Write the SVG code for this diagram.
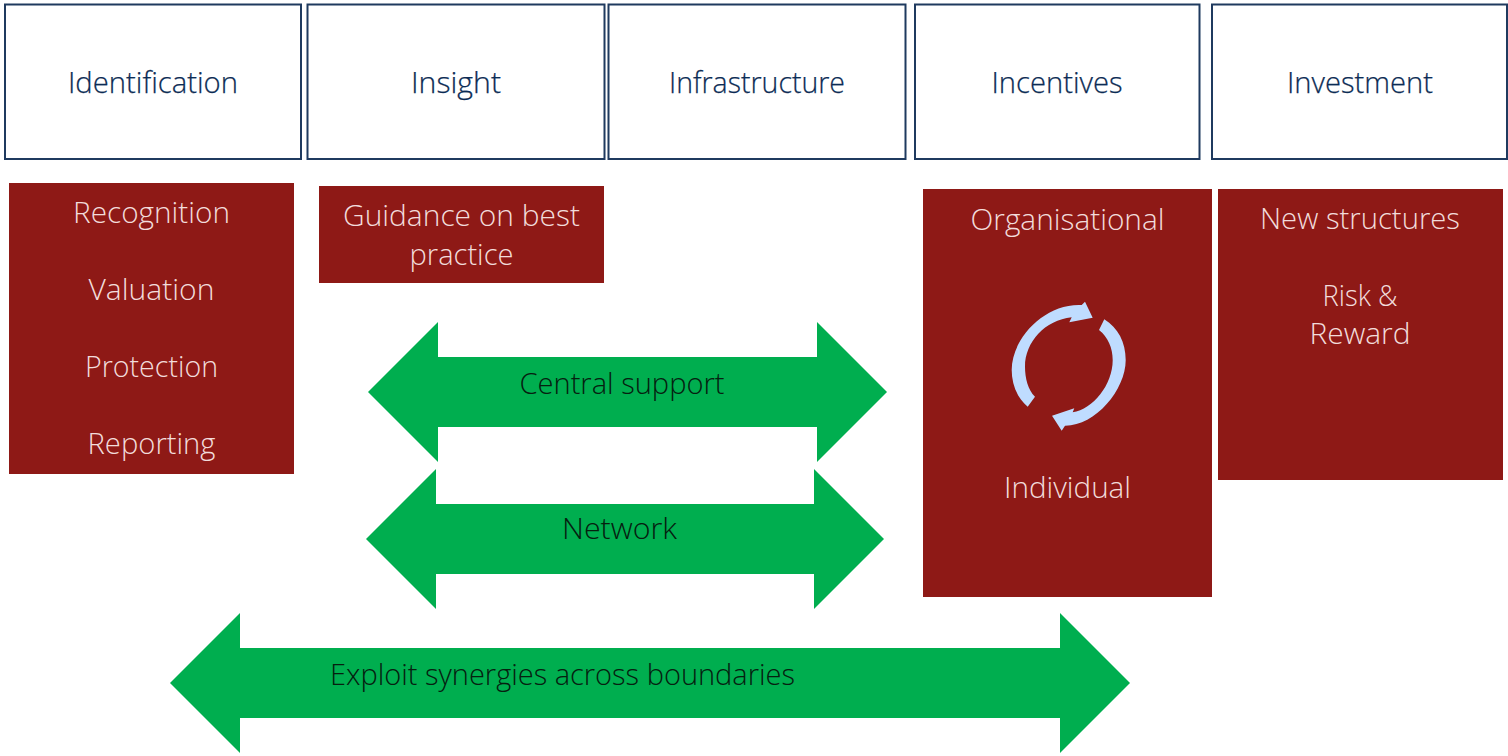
<svg xmlns="http://www.w3.org/2000/svg" width="1508" height="756" viewBox="0 0 1508 756">
<style>
text{font-family:"Open Sans","Noto Sans","Liberation Sans",sans-serif;font-weight:300;text-anchor:middle}
.h rect{fill:#fff;stroke:#1f3a5f;stroke-width:2}
.h text{font-size:30px;fill:#0c2c55;stroke:#0c2c55;stroke-width:.25}
.r rect{fill:#8e1916}
.r text{font-size:30px;fill:#f2dcdb}
.a{fill:#00ae4f}
.g text,text.g{font-size:29px;fill:#06200f}
.c{fill:#bfdcff}
</style>
<g id="box-identification" class="h"><rect x="5" y="4.500" width="296" height="154.500"/><text x="153" y="92.500" textLength="170" lengthAdjust="spacingAndGlyphs">Identification</text></g>
<g id="box-insight" class="h"><rect x="307.500" y="4.500" width="297" height="154.500"/><text x="456" y="92.500" textLength="90" lengthAdjust="spacingAndGlyphs">Insight</text></g>
<g id="box-infrastructure" class="h"><rect x="608.500" y="4.500" width="297" height="154.500"/><text x="757" y="92.500" textLength="176" lengthAdjust="spacingAndGlyphs">Infrastructure</text></g>
<g id="box-incentives" class="h"><rect x="915" y="4.500" width="284.500" height="154.500"/><text x="1057" y="92.500" textLength="131" lengthAdjust="spacingAndGlyphs">Incentives</text></g>
<g id="box-investment" class="h"><rect x="1212" y="4.500" width="295" height="154.500"/><text x="1360" y="92.500" textLength="146" lengthAdjust="spacingAndGlyphs">Investment</text></g>

<g id="list-identification" class="r"><rect x="9" y="183" width="285" height="291"/>
<text x="151.500" y="222.500" textLength="157" lengthAdjust="spacingAndGlyphs">Recognition</text>
<text x="151.500" y="299.500" textLength="126" lengthAdjust="spacingAndGlyphs">Valuation</text>
<text x="151.500" y="376.500" textLength="133" lengthAdjust="spacingAndGlyphs">Protection</text>
<text x="151.500" y="453.500" textLength="128" lengthAdjust="spacingAndGlyphs">Reporting</text></g>
<g id="list-insight" class="r"><rect x="319" y="186" width="285" height="97"/>
<text x="461.500" y="225.500" textLength="237" lengthAdjust="spacingAndGlyphs">Guidance on best</text>
<text x="461.500" y="264.500" textLength="104" lengthAdjust="spacingAndGlyphs">practice</text></g>
<g id="list-incentives" class="r"><rect x="923" y="189" width="289" height="408"/>
<text x="1067.500" y="229.500" textLength="194" lengthAdjust="spacingAndGlyphs">Organisational</text>
<text x="1067.500" y="498" textLength="127" lengthAdjust="spacingAndGlyphs">Individual</text></g>
<g id="list-investment" class="r"><rect x="1218" y="189" width="285" height="291"/>
<text x="1360" y="229" textLength="200" lengthAdjust="spacingAndGlyphs">New structures</text>
<text x="1360" y="306" textLength="75" lengthAdjust="spacingAndGlyphs">Risk &amp;</text>
<text x="1360" y="344" textLength="101" lengthAdjust="spacingAndGlyphs">Reward</text></g>

<g id="cycle">
<path class="c" d="M1027.700 406.700L1035 396.700C1028 390 1025 378 1025 366.700C1025 342 1045 320 1071.700 317.300L1069.300 322.300L1092.700 317.700L1085 301.700L1081.700 305C1045 303 1011.700 338 1011.700 370C1011.700 384 1017 398 1027.700 406.700Z"/>
<path class="c" d="M1104.300 319.300L1099 330C1108 337 1112.700 348 1112.700 360C1112.700 385 1093 409 1072.700 412.300L1074.300 408.300L1052 415.700L1061.700 430.700L1065 425.700C1095 426 1125.700 390 1125.700 360C1125.700 342 1118 328 1104.300 319.300Z"/>
</g>

<g id="connectors">
<g id="arrow-central"><path class="a" d="M368 392L438 322V357H817V322L887 392L817 462V427H438V462Z"/><text class="g" x="622" y="393.500" textLength="205" lengthAdjust="spacingAndGlyphs">Central support</text></g>
<g id="arrow-network"><path class="a" d="M366 539L436 469V504H814V469L884 539L814 609V574H436V609Z"/><text class="g" x="619.500" y="539" textLength="115" lengthAdjust="spacingAndGlyphs">Network</text></g>
<g id="arrow-synergies"><path class="a" d="M170 683L240 613V648H1060V613L1130 683L1060 753V718H240V753Z"/><text class="g" x="562.500" y="684.500" textLength="465" lengthAdjust="spacingAndGlyphs">Exploit synergies across boundaries</text></g>
</g>
</svg>
